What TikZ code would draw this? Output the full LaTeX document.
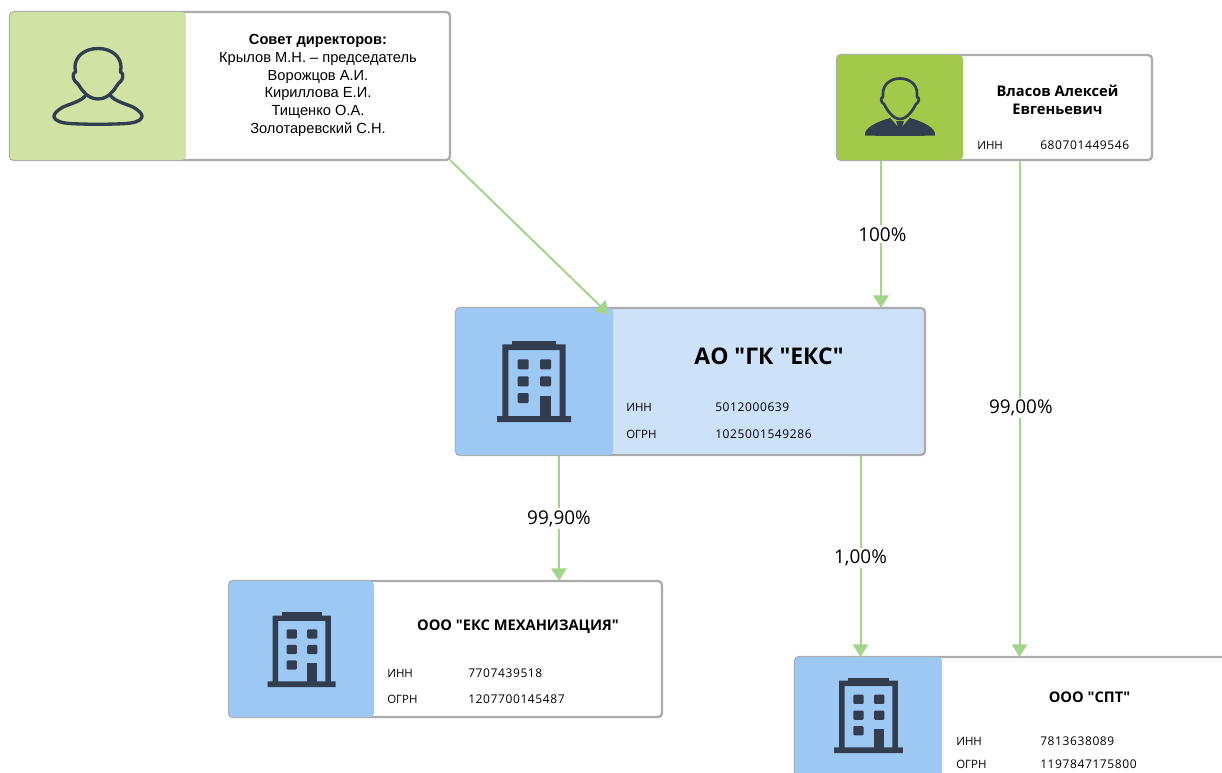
\documentclass[tikz,border=0pt]{standalone}
\usepackage{fontspec}
\setmainfont{Open Sans}[Ligatures=TeXOff]
\newfontfamily\arialf{Liberation Sans}
\newfontfamily\numf[LetterSpace=5]{Open Sans}
\usetikzlibrary{fit,arrows.meta}
\definecolor{edgegray}{HTML}{ABABAB}
\definecolor{linkgreen}{HTML}{A3D48C}
\definecolor{navy}{HTML}{323D4F}
\definecolor{sky}{HTML}{9EC8F4}
\definecolor{palesky}{HTML}{CDE2F9}
\definecolor{palegreen}{HTML}{D1E3A4}
\definecolor{leaf}{HTML}{A3C94B}
\tikzset{
  card/.style={draw=edgegray,line width=1.7pt,rounded corners=3pt,inner sep=0pt},
  panel/.style={rounded corners=3pt},
  link/.style={draw=linkgreen,line width=1.5pt,shorten >=-0.8pt,-{Triangle[length=9.5pt,width=11.5pt]}},
  pct/.style={fill=white,inner sep=1.5pt,yshift=-1.3pt,font=\fontsize{14.2}{17}\selectfont},
  key/.style={anchor=west,inner sep=0pt,font=\fontsize{8.6}{10}\selectfont},
  val/.style={anchor=west,inner sep=0pt,font=\fontsize{9}{10}\selectfont\numf},
  title/.style={align=center,inner sep=0pt,font=\fontsize{11}{13.5}\selectfont\bfseries},
  pics/building/.style={code={
    \fill[navy,even odd rule] (-37,-6) rectangle (37,0)
      (-31.7,-6) -- (-31.7,-77.7) -- (31.7,-77.7) -- (31.7,-6) -- (25.7,-6) -- (25.7,-72) -- (-25.7,-72) -- (-25.7,-6) -- cycle;
    \fill[navy] (-21.8,-77) rectangle (22,-81);
    \foreach \yy in {-62.7,-45.7,-29}
      \fill[navy,rounded corners=0.8pt] (-16.3,\yy) rectangle (-5.3,\yy+10);
    \foreach \yy in {-62.7,-45.7}
      \fill[navy,rounded corners=0.8pt] (6,\yy) rectangle (17,\yy+10);
    \fill[navy] (6,-25.7) rectangle (17,-5);
  }}
}
\begin{document}
\begin{tikzpicture}[x=0.75pt,y=-0.75pt]
\useasboundingbox (0,0) rectangle (1222,772);

% panels and cards
\begin{scope}
\clip (0,0) rectangle (1222,772);
\node[card,fill=white,fit={(10,12)(450,160)}] (board) {};
\fill[palegreen,panel] (10,12) rectangle (186,160);
\node[card,fill=white,fit={(837,55)(1152,160)}] (vlasov) {};
\fill[leaf,panel] (837,55) rectangle (963,160);
\node[card,fill=palesky,fit={(456,308)(925,455)}] (eks) {};
\fill[sky,panel] (456,308) rectangle (613,455);
\node[card,fill=white,fit={(229,581)(662,717)}] (mech) {};
\fill[sky,panel] (229,581) rectangle (374,717);
\node[card,fill=white,fit={(795,657)(1240,800)}] (spt) {};
\fill[sky,panel] (795,657) rectangle (942,800);
\end{scope}

% outline person
\draw[navy,line width=2.5pt,line join=round]
  (86,95) .. controls (82,101) and (70,104) .. (63,107)
  .. controls (58,110) and (53,114) .. (54,117)
  .. controls (55,121) and (62,123) .. (70,123.5)
  .. controls (85,124.5) and (111,124.5) .. (126,123.5)
  .. controls (134,123) and (141,121) .. (142,117)
  .. controls (143,114) and (138,110) .. (133,107)
  .. controls (126,104) and (114,101) .. (110,95);
\draw[navy,line width=2.5pt,line join=round]
  (98,48.5) .. controls (84,48.5) and (75,57) .. (75,67)
  .. controls (75,69) and (75.5,71) .. (75.5,72)
  .. controls (72,73) and (73,79) .. (75,81)
  .. controls (79,84) and (80,88) .. (83,91)
  .. controls (87,96) and (92,99) .. (98,99)
  .. controls (104,99) and (109,96) .. (113,91)
  .. controls (116,88) and (117,84) .. (121,81)
  .. controls (123,79) and (124,73) .. (120.5,72)
  .. controls (120.5,71) and (121,69) .. (121,67)
  .. controls (121,57) and (112,48.5) .. (98,48.5) -- cycle;

% suited person
\fill[navy]
  (865,135.5) .. controls (864,128) and (876,122) .. (890,118)
  -- (900,125) -- (910,118)
  .. controls (924,122) and (936,128) .. (935,135.5)
  .. controls (925,136) and (875,136) .. (865,135.5) -- cycle;
\fill[leaf] (891,118.5) -- (899,128) -- (901,128) -- (909,118.5) -- (905,117) -- (895,117) -- cycle;
\fill[navy] (896,121) -- (904,121) -- (902.5,125.5) -- (904,135) -- (896,135) -- (897.5,125.5) -- cycle;
\draw[navy,line width=2pt,line join=round]
  (900,78.5) .. controls (890,78.5) and (883,85) .. (883,93)
  .. controls (883,94) and (883,96) .. (883,97)
  .. controls (880,97) and (881,103) .. (884,104)
  .. controls (886,108) and (892,119) .. (900,119)
  .. controls (908,119) and (914,108) .. (916,104)
  .. controls (919,103) and (920,97) .. (917,97)
  .. controls (917,96) and (917,94) .. (917,93)
  .. controls (917,85) and (910,78.5) .. (900,78.5) -- cycle;

% buildings
\pic at (534,422) {building};
\pic[scale=.92,transform shape] at (301.7,687) {building};
\pic[scale=.93,transform shape] at (868.5,753) {building};

% text
\node[align=center,inner sep=0pt,font=\fontsize{11}{13.3}\selectfont\arialf] (boardtext) at (318,85.5)
  {\textbf{Совет директоров:}\\Крылов М.Н. – председатель\\Ворожцов А.И.\\Кириллова Е.И.\\Тищенко О.А.\\Золотаревский С.Н.};

\node[title] (vlasovname) at (1057.5,100) {Власов Алексей\\Евгеньевич};
\node[key] (vk) at (977,145) {ИНН};
\node[val] (vv) at (1040,145) {680701449546};

\node[inner sep=0pt,font=\fontsize{17.2}{20}\selectfont\bfseries] (eksname) at (769,356) {АО "ГК "ЕКС"};
\node[key] (ek1) at (626,407) {ИНН};
\node[val] (ev1) at (715,407) {5012000639};
\node[key] (ek2) at (626,434) {ОГРН};
\node[val] (ev2) at (715,434) {1025001549286};

\node[title] (mechname) at (518,626.5) {ООО "ЕКС МЕХАНИЗАЦИЯ"};
\node[key] (mk1) at (387,673) {ИНН};
\node[val] (mv1) at (468,673) {7707439518};
\node[key] (mk2) at (387,699) {ОГРН};
\node[val] (mv2) at (468,699) {1207700145487};

\node[title] (sptname) at (1089.5,697.5) {ООО "СПТ"};
\node[key] (sk1) at (956,741) {ИНН};
\node[val] (sv1) at (1040,741) {7813638089};
\node[key] (sk2) at (956,764) {ОГРН};
\node[val] (sv2) at (1040,764) {1197847175800};

% connectors
\coordinate (xa) at (881,0);
\coordinate (xb) at (1019.5,0);
\coordinate (xc) at (559,0);
\coordinate (xd) at (860.5,0);
\coordinate (boardcorner) at (450,160);
\coordinate (ekshit) at (609,314.5);
\draw[link,shorten >=0pt] (boardcorner) -- (ekshit);
\draw[link] (vlasov.south -| xa) -- (eks.north -| xa) node[pct,pos=.49,xshift=1pt] (l100) {100\%};
\draw[link] (vlasov.south -| xb) -- (spt.north -| xb) node[pct,pos=.4957,xshift=1pt] (l99) {99,00\%};
\draw[link] (eks.south -| xc) -- (mech.north -| xc) node[pct,pos=.49] (l999) {99,90\%};
\draw[link] (eks.south -| xd) -- (spt.north -| xd) node[pct,pos=.5] (l1) {1,00\%};
\end{tikzpicture}
\end{document}
